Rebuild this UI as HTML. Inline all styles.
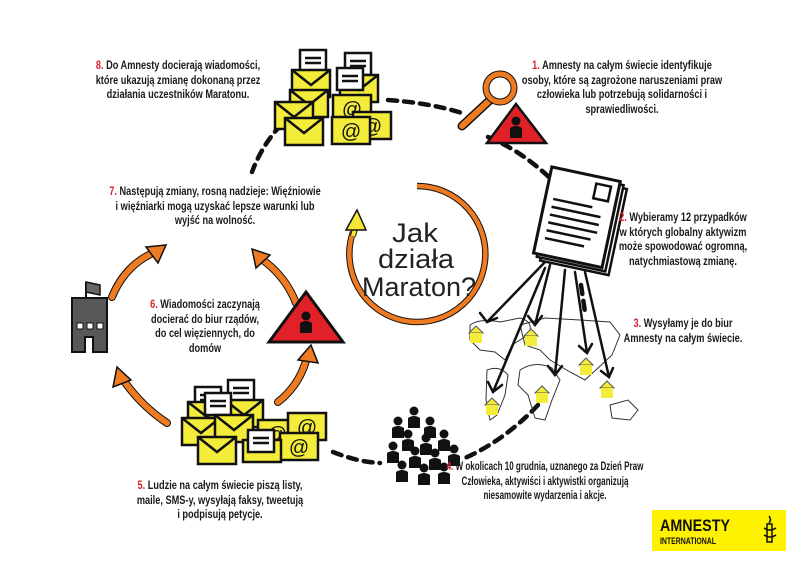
<!DOCTYPE html>
<html><head><meta charset="utf-8"><style>
html,body{margin:0;padding:0;background:#fff;}
body{width:800px;height:565px;overflow:hidden;position:relative;font-family:"Liberation Sans",sans-serif;}
.t{position:absolute;font-weight:bold;font-size:11.5px;line-height:14.5px;color:#1a1a1a;text-align:center;white-space:nowrap;width:300px;transform:scaleX(0.8);transform-origin:50% 0;}
.t b{color:#d9232e;}
svg{position:absolute;left:0;top:0;}
</style></head><body>
<svg width="800" height="565" viewBox="0 0 800 565">
<defs>
<g id="env"><rect x="0" y="0" width="38" height="27" fill="#f4ec3a" stroke="#111" stroke-width="2.5"/><path d="M0 0 L19 15 L38 0" fill="none" stroke="#111" stroke-width="2.5"/></g>
<g id="at"><rect x="0" y="0" width="38" height="27" fill="#f4ec3a" stroke="#111" stroke-width="2.5"/><text x="19" y="21" font-family="Liberation Sans" font-size="20" text-anchor="middle" fill="#111">@</text></g>
<g id="pap"><rect x="0" y="0" width="26" height="22" fill="#fff" stroke="#111" stroke-width="2.5"/><path d="M5 8h16M5 13h16" stroke="#111" stroke-width="2.5"/></g>
<g id="house"><path d="M-7 -2 L0 -9 L7 -2 Z" fill="#f4ec3a" stroke="#555" stroke-width="1"/><rect x="-6" y="-2" width="12" height="10" fill="#f4ec3a"/></g>
<g id="p"><circle cx="0" cy="-7" r="4.5" fill="#111"/><path d="M-6 10 L-6 0 Q0 -4 6 0 L6 10 Z" fill="#111"/></g>
</defs>
<g fill="none" stroke="#111" stroke-width="4.5" stroke-dasharray="9 7" stroke-linecap="round">
<path d="M388 100 Q430 103 462 113"/>
<path d="M488 137 Q520 150 550 178"/>
<path d="M281 125 Q262 145 252 172"/>
<path d="M581 285 L585 312"/>
<path d="M538 405 Q505 440 465 458"/>
<path d="M333 452 Q358 462 380 463"/>
</g>
<use href="#pap" x="300" y="50"/><use href="#pap" x="345" y="53"/>
<use href="#env" x="292" y="70"/><use href="#env" x="340" y="75"/>
<use href="#pap" x="337" y="68"/>
<use href="#env" x="290" y="90"/><use href="#at" x="333" y="95"/>
<use href="#env" x="275" y="102"/><use href="#at" x="353" y="112"/>
<use href="#env" x="285" y="118"/><use href="#at" x="332" y="117"/>
<path d="M490 100 L462 126" stroke="#111" stroke-width="9" stroke-linecap="round"/>
<path d="M490 100 L462 126" stroke="#ee7b22" stroke-width="6" stroke-linecap="round"/>
<polygon points="516,104 546,143 487,143" fill="#e02228" stroke="#111" stroke-width="2.5"/>
<use href="#p" x="516" y="128"/>
<circle cx="500" cy="88" r="14" fill="#fff" stroke="#111" stroke-width="7"/>
<circle cx="500" cy="88" r="14" fill="none" stroke="#ee7b22" stroke-width="5"/>
<g transform="rotate(12 580 222)">
<rect x="549" y="180" width="70" height="88" fill="#fff" stroke="#111" stroke-width="2.5"/>
<rect x="545" y="177" width="70" height="88" fill="#fff" stroke="#111" stroke-width="2.5"/>
<rect x="541" y="174" width="70" height="88" fill="#fff" stroke="#111" stroke-width="3"/>
<rect x="588" y="181" width="15" height="15" fill="none" stroke="#111" stroke-width="2.5"/>
<path d="M549 205h40M549 213h50M549 221h50M549 229h50M549 237h45M549 245h40" stroke="#111" stroke-width="2.5"/>
</g>
<g fill="none" stroke="#333" stroke-width="1">
<path d="M470 325 Q480 318 500 322 L520 318 Q535 322 528 335 L512 345 L505 360 L495 352 L480 350 L470 340 Z"/>
<path d="M487 370 Q500 365 508 375 L505 395 L497 415 L490 420 L486 400 Z"/>
<path d="M520 325 L545 318 L580 320 L610 322 L620 335 L612 355 L598 368 L585 380 L570 372 L550 360 L540 350 L525 345 Z"/>
<path d="M520 370 Q535 360 552 368 L560 380 L552 400 L545 420 L535 418 L528 395 L518 385 Z"/>
<path d="M610 405 L628 400 L638 410 L630 420 L612 418 Z"/>
</g>
<g stroke="#111" stroke-width="2.5" fill="none" stroke-linecap="round">
<path d="M545 262 L487 322"/><path d="M480 313 L487 322 L497 318"/>
<path d="M550 265 L535 325"/><path d="M528 316 L535 325 L542 316"/>
<path d="M545 268 L493 392"/><path d="M488 382 L493 392 L502 385"/>
<path d="M565 270 L555 375"/><path d="M548 366 L555 375 L562 366"/>
<path d="M575 272 L587 353"/><path d="M579 346 L587 353 L592 344"/>
<path d="M585 272 L609 377"/><path d="M601 371 L609 377 L613 368"/>
</g>
<use href="#house" x="476" y="335"/><use href="#house" x="531" y="338"/><use href="#house" x="492" y="407"/>
<use href="#house" x="542" y="395"/><use href="#house" x="586" y="367"/><use href="#house" x="607" y="390"/>
<path d="M417 186 A68 68 0 1 1 353 232" fill="none" stroke="#111" stroke-width="6.5"/>
<path d="M417 186 A68 68 0 1 1 353 232" fill="none" stroke="#ee7b22" stroke-width="4.5"/>
<path d="M353 236 L356 225" stroke="#111" stroke-width="6"/><path d="M353 236 L356 225" stroke="#f6e838" stroke-width="4"/>
<polygon points="357,210 346,230 366,230" fill="#f6e838" stroke="#111" stroke-width="1.5"/>
<g font-family="Liberation Sans,sans-serif" font-size="27" fill="#222">
<text x="392" y="242" textLength="46" lengthAdjust="spacingAndGlyphs">Jak</text>
<text x="378" y="268" textLength="76" lengthAdjust="spacingAndGlyphs">działa</text>
<text x="362" y="296" textLength="114" lengthAdjust="spacingAndGlyphs">Maraton?</text>
</g>
<g fill="none" stroke-linecap="round">
<path d="M112 297 Q125 265 155 252" stroke="#111" stroke-width="8"/><path d="M112 297 Q125 265 155 252" stroke="#ee7b22" stroke-width="6"/>
<path d="M296 303 Q285 275 260 258" stroke="#111" stroke-width="8"/><path d="M296 303 Q285 275 260 258" stroke="#ee7b22" stroke-width="6"/>
<path d="M167 423 Q140 405 122 378" stroke="#111" stroke-width="8"/><path d="M167 423 Q140 405 122 378" stroke="#ee7b22" stroke-width="6"/>
<path d="M278 402 Q300 385 307 357" stroke="#111" stroke-width="8"/><path d="M278 402 Q300 385 307 357" stroke="#ee7b22" stroke-width="6"/>
</g>
<g fill="#ee7b22" stroke="#111" stroke-width="1.5">
<polygon points="166,245 146,247 158,263"/>
<polygon points="252,249 256,268 270,255"/>
<polygon points="117,367 113,387 131,380"/>
<polygon points="311,345 298,360 318,363"/>
</g>
<path d="M86 300 L86 282" stroke="#111" stroke-width="2"/>
<path d="M86 282 L100 285 L100 295 L86 292 Z" fill="#666" stroke="#111" stroke-width="1.5"/>
<path d="M72 298 L107 298 L107 352 L93 352 L93 337 L85 337 L85 352 L72 352 Z" fill="#58585a" stroke="#111" stroke-width="2"/>
<rect x="77" y="323" width="6" height="6" fill="#fff" stroke="#111"/><rect x="87" y="323" width="6" height="6" fill="#fff" stroke="#111"/><rect x="97" y="323" width="6" height="6" fill="#fff" stroke="#111"/>
<polygon points="306,292 343,342 269,342" fill="#e02228" stroke="#111" stroke-width="3"/>
<use href="#p" x="306" y="323"/>
<use href="#pap" x="195" y="387"/><use href="#pap" x="228" y="380"/>
<use href="#env" x="188" y="402"/><use href="#env" x="225" y="400"/><use href="#pap" x="205" y="393"/>
<use href="#env" x="182" y="418"/><use href="#env" x="215" y="415"/>
<use href="#at" x="258" y="420"/><use href="#at" x="288" y="413"/>
<use href="#env" x="198" y="437"/><use href="#at" x="280" y="433"/>
<rect x="243" y="440" width="38" height="22" fill="#f4ec3a" stroke="#111" stroke-width="2.5"/><use href="#pap" x="248" y="430"/>
<use href="#p" x="414" y="418"/><use href="#p" x="398" y="428"/><use href="#p" x="430" y="428"/>
<use href="#p" x="408" y="441"/><use href="#p" x="426" y="445"/><use href="#p" x="444" y="441"/>
<use href="#p" x="393" y="453"/><use href="#p" x="415" y="458"/><use href="#p" x="435" y="460"/><use href="#p" x="454" y="456"/>
<use href="#p" x="402" y="472"/><use href="#p" x="424" y="475"/><use href="#p" x="444" y="474"/>
<rect x="652" y="510" width="134" height="41" fill="#fff200"/>
<text x="660" y="531" font-family="Liberation Sans,sans-serif" font-weight="bold" font-size="17" fill="#111" textLength="70" lengthAdjust="spacingAndGlyphs">AMNESTY</text>
<text x="660" y="544" font-family="Liberation Sans,sans-serif" font-weight="bold" font-size="9" fill="#111" textLength="56" lengthAdjust="spacingAndGlyphs">INTERNATIONAL</text>
<g stroke="#111" stroke-width="1.5" fill="none"><rect x="767" y="524" width="5" height="18"/><path d="M764 528 Q770 532 776 528 M764 535 Q770 539 776 535"/><path d="M769 516 Q772 520 769 523"/></g>
</svg>
<div class="t" style="left:28px;top:59px;"><b>8.</b> Do Amnesty docierają wiadomości,<br>które ukazują zmianę dokonaną przez<br>działania uczestników Maratonu.</div>
<div class="t" style="left:472px;top:59px;"><b>1.</b> Amnesty na całym świecie identyfikuje<br>osoby, które są zagrożone naruszeniami praw<br>człowieka lub potrzebują solidarności i<br>sprawiedliwości.</div>
<div class="t" style="left:65px;top:185px;"><b>7.</b> Następują zmiany, rosną nadzieje: Więźniowie<br>i więźniarki mogą uzyskać lepsze warunki lub<br>wyjść na wolność.</div>
<div class="t" style="left:533px;top:211px;"><b>2.</b> Wybieramy 12 przypadków<br>w których globalny aktywizm<br>może spowodować ogromną,<br>natychmiastową zmianę.</div>
<div class="t" style="left:533px;top:317px;"><b>3.</b> Wysyłamy je do biur<br>Amnesty na całym świecie.</div>
<div class="t" style="left:55px;top:298px;"><b>6.</b> Wiadomości zaczynają<br>docierać do biur rządów,<br>do cel więziennych, do<br>domów</div>
<div class="t" style="left:395px;top:460px;transform:scaleX(0.7);"><b>4.</b> W okolicach 10 grudnia, uznanego za Dzień Praw<br>Człowieka, aktywiści i aktywistki organizują<br>niesamowite wydarzenia i akcje.</div>
<div class="t" style="left:70px;top:479px;"><b>5.</b> Ludzie na całym świecie piszą listy,<br>maile, SMS-y, wysyłają faksy, tweetują<br>i podpisują petycje.</div>
</body></html>
